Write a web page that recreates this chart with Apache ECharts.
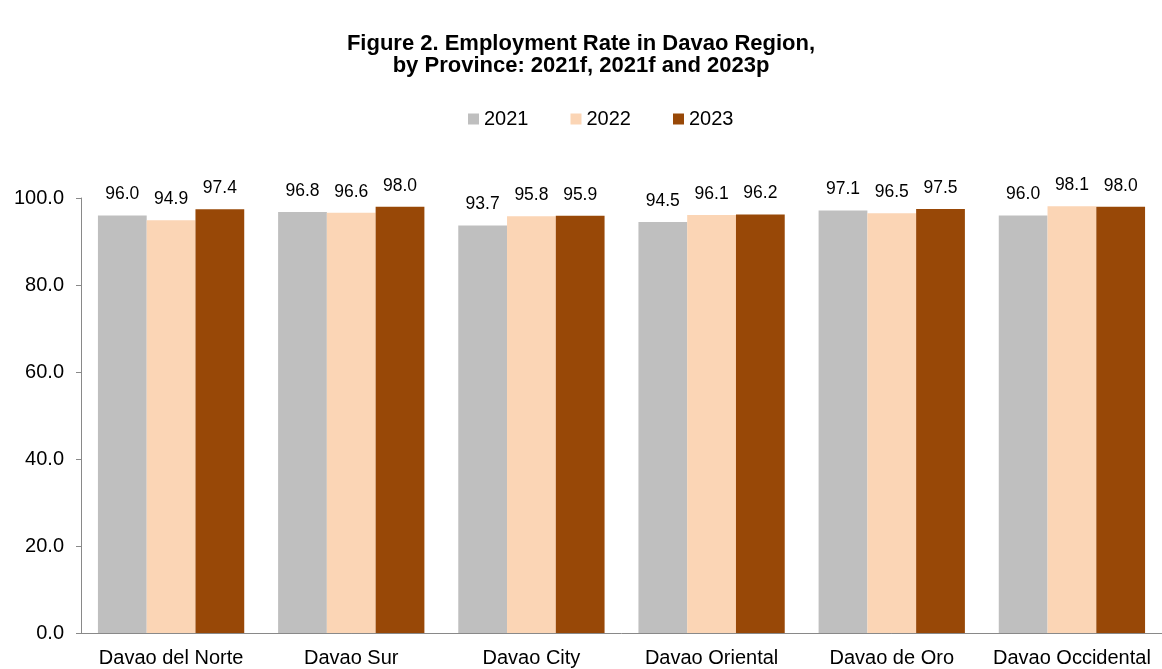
<!DOCTYPE html>
<html><head><meta charset="utf-8">
<script src="https://cdn.jsdelivr.net/npm/echarts@6/dist/echarts.min.js"></script>
<style>html,body{margin:0;padding:0;background:#fff}#c{width:1162px;height:669px}</style>
</head><body><div id="c"></div>
<script>
const categories = ['Davao del Norte','Davao Sur','Davao City','Davao Oriental','Davao de Oro','Davao Occidental'];
const s2021 = [96.0, 96.8, 93.7, 94.5, 97.1, 96.0];
const s2022 = [94.9, 96.6, 95.8, 96.1, 96.5, 98.1];
const s2023 = [97.4, 98.0, 95.9, 96.2, 97.5, 98.0];
const seriesNames = ['2021','2022','2023'];
const colors = ['#bfbfbf','#fbd5b5','#984807'];
const font = '"Liberation Sans", Arial, sans-serif';
const chart = echarts.init(document.getElementById('c'));
const mk = (name, data, color) => ({
  name, type:'bar', data, itemStyle:{color}, barGap:'0%', barCategoryGap:'18.8%',
  label:{show:true, position:'top', distance:12, color:'#000', fontSize:17.5, fontFamily:font, formatter:p=>p.value.toFixed(1)}
});
chart.setOption({
  animation:false,
  title:{text:'Figure 2. Employment Rate in Davao Region,\nby Province: 2021f, 2021f and 2023p', left:'center', top:28,
    textStyle:{fontSize:22, fontWeight:'bold', fontFamily:font, color:'#000', lineHeight:22}},
  legend:{top:104, left:463, itemWidth:11, itemHeight:11, itemGap:42, icon:'rect',
    textStyle:{fontSize:20, fontFamily:font, color:'#000'}},
  grid:{left:81, width:1087, top:198, bottom:36, containLabel:false},
  xAxis:{type:'category', data:categories, axisTick:{show:false},
    axisLine:{lineStyle:{color:'#898989'}},
    axisLabel:{interval:0, fontSize:20, fontFamily:font, color:'#000', margin:15}},
  yAxis:{type:'value', min:0, max:100, interval:20, splitLine:{show:false},
    axisLine:{show:true, lineStyle:{color:'#898989'}},
    axisTick:{show:true, length:5, lineStyle:{color:'#898989'}},
    axisLabel:{fontSize:20, fontFamily:font, color:'#000', margin:17, formatter:v=>v.toFixed(1)}},
  series:[mk(seriesNames[0], s2021, colors[0]), mk(seriesNames[1], s2022, colors[1]), mk(seriesNames[2], s2023, colors[2])]
});
</script></body></html>
